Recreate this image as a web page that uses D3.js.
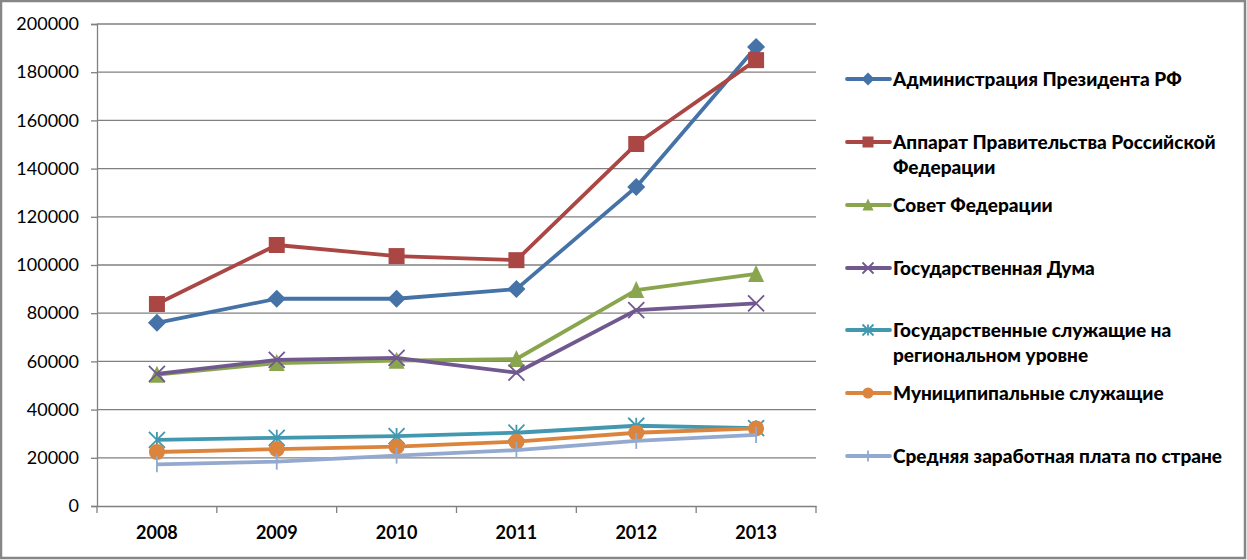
<!DOCTYPE html>
<html><head><meta charset="utf-8">
<script src="https://cdn.jsdelivr.net/npm/d3@7"></script>
<style>body{margin:0;background:#fff}svg{display:block}</style>
</head><body>
<svg id="c" width="1247" height="560"></svg>
<script>
const years = ["2008","2009","2010","2011","2012","2013"];
const seriesNames = [
  "Администрация Президента РФ",
  "Аппарат Правительства Российской Федерации",
  "Совет Федерации",
  "Государственная Дума",
  "Государственные служащие на региональном уровне",
  "Муниципипальные служащие",
  "Средняя заработная плата по стране"
];
const legendLines = [
  ["Администрация Президента РФ"],
  ["Аппарат Правительства Российской","Федерации"],
  ["Совет Федерации"],
  ["Государственная Дума"],
  ["Государственные служащие на","региональном уровне"],
  ["Муниципипальные служащие"],
  ["Средняя заработная плата по стране"]
];
const adminPres = [76000, 86000, 86000, 90000, 132400, 190500];
const apparatGov = [83800, 108300, 103700, 102000, 150200, 185000];
const sovetFed = [54500, 59300, 60300, 61000, 89600, 96300];
const gosDuma = [54800, 60600, 61500, 55300, 81300, 84100];
const gosRegion = [27400, 28300, 29000, 30400, 33300, 32300];
const municipal = [22400, 23600, 24600, 26700, 30400, 32200];
const avgWage = [17300, 18400, 20900, 23200, 27000, 29500];
const yTicks = [0,20000,40000,60000,80000,100000,120000,140000,160000,180000,200000];

const allValues = [adminPres, apparatGov, sovetFed, gosDuma, gosRegion, municipal, avgWage];
const colors = ["#4572A7","#AA4643","#89A54E","#71588F","#4198AF","#DB843D","#93A9CF"];
const markers = ["diamond","square","triangle","x","star","circle","plus"];

const svg = d3.select("#c");
svg.append("rect").attr("x",1).attr("y",1).attr("width",1244).attr("height",557)
  .attr("fill","#fff").attr("stroke","#868686").attr("stroke-width",2.5);

const L = 97, R = 816, T = 24, B = 506;
const x = d3.scaleBand().domain(years).range([L,R]);
const y = d3.scaleLinear().domain([0,200000]).range([B,T]);

// gridlines
svg.append("g").selectAll("line").data(yTicks.slice(1)).join("line")
  .attr("x1",L).attr("x2",R).attr("y1",d=>y(d)).attr("y2",d=>y(d))
  .attr("stroke","#808080").attr("stroke-width",1.3);

// y axis
const ya = svg.append("g").attr("transform",`translate(${L},0)`)
  .call(d3.axisLeft(y).tickValues(yTicks).tickSize(6).tickPadding(12).tickFormat(d3.format("d")));
ya.select(".domain").attr("stroke","#808080").attr("stroke-width",1.3);
ya.selectAll(".tick line").attr("stroke","#808080").attr("stroke-width",1.3);
ya.selectAll("text").attr("font-family","Lato").attr("font-size",18).attr("fill","#000");

// x axis
const xa = svg.append("g").attr("transform",`translate(0,${B})`)
  .call(d3.axisBottom(x).tickSize(0).tickPadding(20));
xa.select(".domain").attr("stroke","#808080").attr("stroke-width",1.3);
xa.selectAll("text").attr("font-family","Lato").attr("font-weight","bold").attr("font-size",18).attr("fill","#000");
svg.append("g").selectAll("line").data(years.concat(["end"])).join("line")
  .attr("x1",(d,i)=>L+i*x.bandwidth()).attr("x2",(d,i)=>L+i*x.bandwidth())
  .attr("y1",B).attr("y2",B+7).attr("stroke","#808080").attr("stroke-width",1.3);

function drawMarker(g, type, color, s) {
  const h = s/2;
  if (type==="diamond") g.append("path").attr("d",`M0,${-h-1}L${h+1},0L0,${h+1}L${-h-1},0Z`).attr("fill",color);
  else if (type==="square") g.append("rect").attr("x",-h).attr("y",-h).attr("width",s).attr("height",s).attr("fill",color);
  else if (type==="triangle") g.append("path").attr("d",`M0,${-h-1}L${h},${h}L${-h},${h}Z`).attr("fill",color);
  else if (type==="circle") g.append("circle").attr("r",h).attr("fill",color);
  else if (type==="x") g.append("path").attr("d",`M${-h},${-h}L${h},${h}M${h},${-h}L${-h},${h}`).attr("stroke",color).attr("stroke-width",1.8);
  else if (type==="star") g.append("path").attr("d",`M${-h},${-h}L${h},${h}M${h},${-h}L${-h},${h}M0,${-h}L0,${h}`).attr("stroke",color).attr("stroke-width",1.8);
  else if (type==="plus") g.append("path").attr("d",`M0,${-h}L0,${h}`).attr("stroke",color).attr("stroke-width",1.8);
}

const line = d3.line().x((d,i)=>x(years[i])+x.bandwidth()/2).y(d=>y(d));
allValues.forEach((vals,k)=>{
  svg.append("path").datum(vals).attr("d",line).attr("fill","none")
    .attr("stroke",colors[k]).attr("stroke-width",3.8).attr("stroke-linejoin","round");
  vals.forEach((v,i)=>{
    const g = svg.append("g").attr("transform",`translate(${x(years[i])+x.bandwidth()/2},${y(v)})`);
    drawMarker(g, markers[k], colors[k], 16);
  });
});

// legend
const legY = [79,142,205,268,330,393,456];
legendLines.forEach((lines,k)=>{
  const g = svg.append("g").attr("transform",`translate(0,${legY[k]})`);
  g.append("line").attr("x1",847).attr("x2",890).attr("y1",0).attr("y2",0)
    .attr("stroke",colors[k]).attr("stroke-width",3.8).attr("stroke-linecap","round");
  const mg = g.append("g").attr("transform","translate(868,0)");
  drawMarker(mg, markers[k], colors[k], 11);
  const t = g.append("text").attr("x",893).attr("y",0)
    .attr("font-family","Lato").attr("font-weight","900").attr("font-size",19).attr("fill","#000");
  lines.forEach((ln,j)=>t.append("tspan").attr("x",893).attr("dy", j===0?"0.36em":"25px").text(ln));
});
</script>
</body></html>
